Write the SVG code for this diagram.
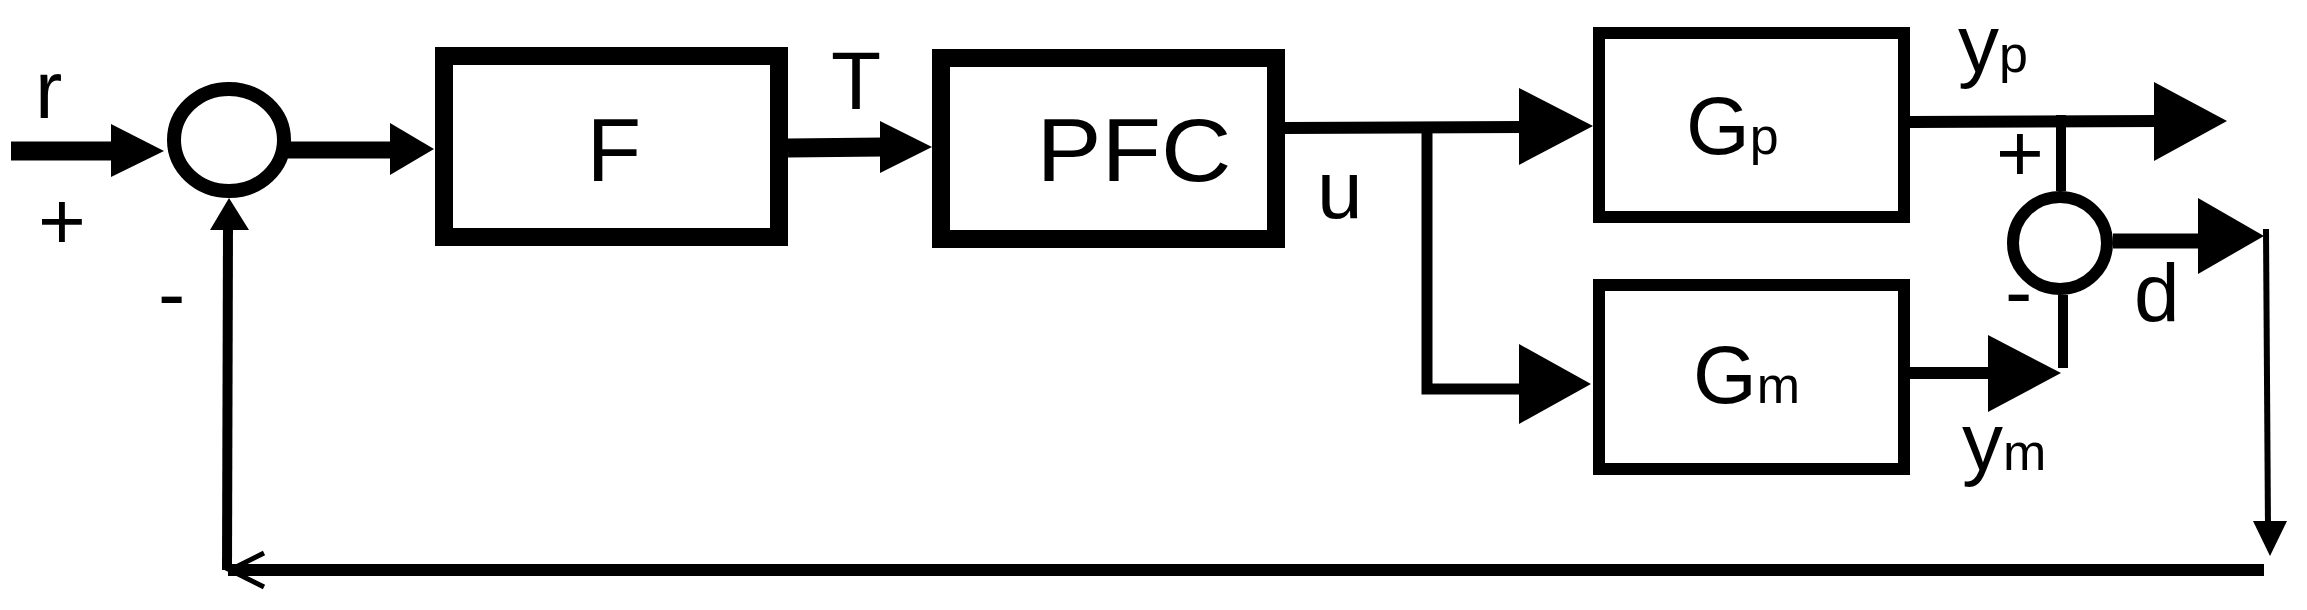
<svg xmlns="http://www.w3.org/2000/svg" width="2307" height="610" viewBox="0 0 2307 610">
<style>
.box{fill:#fff;stroke:#000}
.w{stroke:#000;fill:none}
.ah{fill:#000}
text{font-family:"Liberation Sans",Arial,sans-serif;fill:#000}
.big{font-size:89px}
.lab{font-size:82px}
.sub{font-size:52px}
</style>
<rect width="2307" height="610" fill="#fff"/>
<g id="connectors">
<line class="w" x1="11" y1="151" x2="115" y2="151" stroke-width="19"/>
<polygon class="ah" points="111,124 164,151 111,177"/>
<line class="w" x1="288" y1="150" x2="394" y2="150" stroke-width="17"/>
<polygon class="ah" points="390,123 434,149 390,175"/>
<line class="w" x1="788" y1="148" x2="884" y2="147" stroke-width="19"/>
<polygon class="ah" points="880,121 932,147 880,173"/>
<line class="w" x1="1285" y1="128" x2="1523" y2="127" stroke-width="12"/>
<polygon class="ah" points="1519,88 1593,126 1519,165"/>
<polyline class="w" points="1427,128 1427,389 1523,389" stroke-width="11"/>
<polygon class="ah" points="1519,344 1591,384 1519,424"/>
<line class="w" x1="1910" y1="122" x2="2158" y2="121" stroke-width="12"/>
<polygon class="ah" points="2154,82 2227,121 2154,161"/>
<line class="w" x1="1910" y1="373" x2="1992" y2="373" stroke-width="12"/>
<polygon class="ah" points="1988,335 2061,373 1988,412"/>
<line class="w" x1="2063" y1="368" x2="2063" y2="295" stroke-width="10"/>
<line class="w" x1="2061" y1="191" x2="2061" y2="115" stroke-width="10"/>
<line class="w" x1="2113" y1="241" x2="2202" y2="241" stroke-width="15"/>
<polygon class="ah" points="2198,198 2264,236 2198,274"/>
<line class="w" x1="2266" y1="229" x2="2268" y2="530" stroke-width="6"/>
<polygon class="ah" points="2253,521 2287,521 2270,556"/>
<line class="w" x1="2264" y1="570" x2="228" y2="570" stroke-width="12"/>
<polyline class="w" points="264,553 230,570 264,587" stroke-width="5"/>
<line class="w" x1="227" y1="570" x2="228" y2="225" stroke-width="10"/>
<polygon class="ah" points="210,230 249,230 229,198"/>
</g>
<g id="sum1"><ellipse class="box" cx="229" cy="140" rx="55" ry="51" stroke-width="14"/></g>
<g id="F"><rect class="box" x="444" y="56" width="335" height="181" stroke-width="18"/><text class="big" x="614" y="181" text-anchor="middle">F</text></g>
<g id="PFC"><rect class="box" x="941" y="58" width="335" height="181" stroke-width="18"/><text class="big" x="1134" y="181" text-anchor="middle" textLength="195" lengthAdjust="spacingAndGlyphs">PFC</text></g>
<g id="Gp"><rect class="box" x="1599" y="33" width="305" height="184" stroke-width="12"/><text class="lab" x="1686" y="154">G<tspan class="sub" dy="0">p</tspan></text></g>
<g id="Gm"><rect class="box" x="1599" y="285" width="305" height="184" stroke-width="12"/><text class="lab" x="1693" y="403">G<tspan class="sub">m</tspan></text></g>
<g id="sum2"><ellipse class="box" cx="2060" cy="243" rx="47" ry="46" stroke-width="12"/></g>
<g id="labels">
<text class="lab" x="35" y="118">r</text>
<text class="lab" x="38" y="249">+</text>
<text class="lab" x="158" y="322">-</text>
<text class="lab" x="831" y="109">T</text>
<text class="lab" x="1317" y="218">u</text>
<text class="lab" x="1958" y="72">y<tspan class="sub">p</tspan></text>
<text class="lab" x="1996" y="181">+</text>
<text class="lab" x="2005" y="320">-</text>
<text class="lab" x="2134" y="321">d</text>
<text class="lab" x="1962" y="470">y<tspan class="sub">m</tspan></text>
</g>
</svg>
